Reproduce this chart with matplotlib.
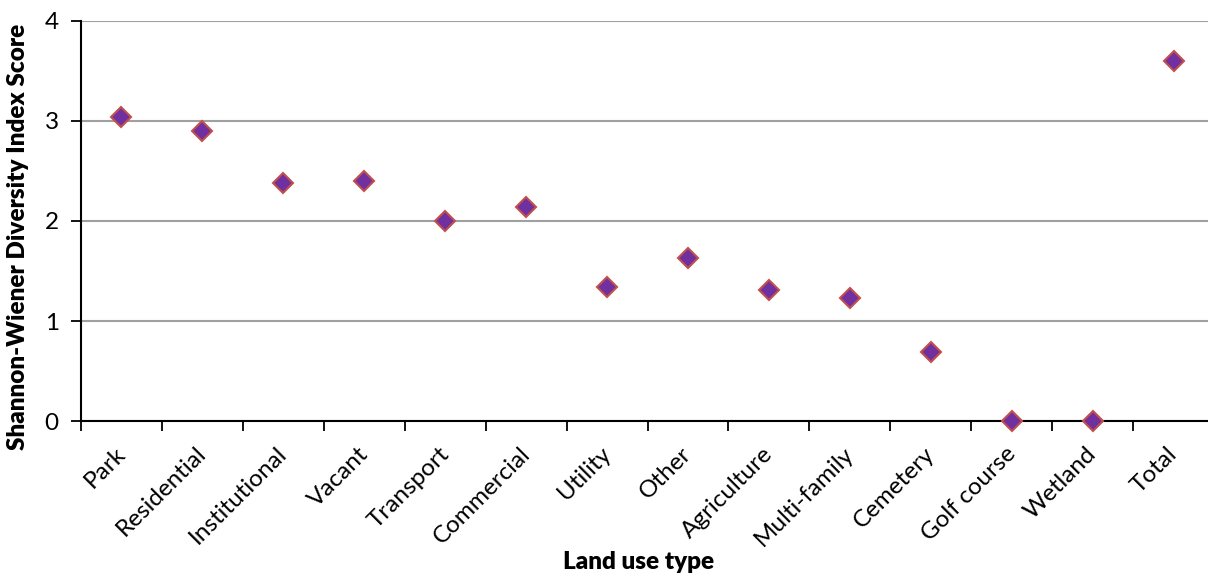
import matplotlib
matplotlib.use("Agg")
import matplotlib.pyplot as plt
import matplotlib.transforms as mtransforms
import numpy as np

categories = ["Park", "Residential", "Institutional", "Vacant", "Transport", "Commercial",
              "Utility", "Other", "Agriculture", "Multi-family", "Cemetery", "Golf course",
              "Wetland", "Total"]
scores = [3.04, 2.90, 2.38, 2.40, 2.00, 2.14, 1.34, 1.63, 1.31, 1.23, 0.69, 0.0, 0.0, 3.60]
y_ticks = [0, 1, 2, 3, 4]

plt.rcParams['font.family'] = ['Lato', 'DejaVu Sans']

W, H = 1208, 575
fig = plt.figure(figsize=(W / 100, H / 100), dpi=100)
left, right, top, bottom = 81, 1214, 20.5, 421.3
ax = fig.add_axes([left / W, 1 - bottom / H, (right - left) / W, (bottom - top) / H])

x = np.arange(len(categories))
ax.plot(x, scores, linestyle='none', marker='D', markersize=10,
        markerfacecolor='#7030A0', markeredgecolor='#C0504D', markeredgewidth=1.5,
        zorder=5, clip_on=False)

ax.set_xlim(-0.5, len(categories) - 0.5)
ax.set_ylim(0, 4)
ax.set_yticks(y_ticks)
ax.set_yticklabels([str(v) for v in y_ticks], fontsize=17.5)
ax.yaxis.grid(True, color='#A0A0A0', linewidth=1.5)
ax.set_axisbelow(True)

ax.set_xticks(np.arange(len(categories) + 1) - 0.5, minor=False)
ax.set_xticklabels([])
ax.set_xticks(x, minor=True)
ax.set_xticklabels(categories, minor=True, rotation=45, ha='right', va='top',
                   rotation_mode='anchor', fontsize=17.5)
ax.tick_params(axis='x', which='minor', length=0, pad=12)
ax.tick_params(axis='x', which='major', length=7, width=1.3, direction='out', color='black')
ax.tick_params(axis='y', length=7, width=1.3, direction='out', pad=9, color='black')

offset = mtransforms.ScaledTranslation(-7 / 100, -5 / 100, fig.dpi_scale_trans)
for lbl in ax.get_xticklabels(minor=True):
    lbl.set_transform(lbl.get_transform() + offset)

for s in ['top', 'right']:
    ax.spines[s].set_visible(False)
ax.spines['left'].set_linewidth(1.5)
ax.spines['bottom'].set_linewidth(1.5)

fig.text(18 / W, 1 - 237 / H, "Shannon-Wiener Diversity Index Score", fontsize=17.5,
         fontweight='heavy', rotation=90, ha='center', va='center')
fig.text(639 / W, 1 - 562 / H, "Land use type", fontsize=17.5,
         fontweight='heavy', ha='center', va='center')

fig.savefig("out.png", dpi=100)
